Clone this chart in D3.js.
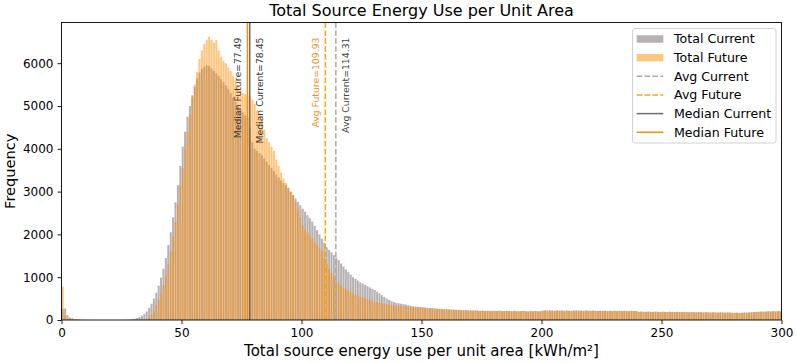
<!DOCTYPE html>
<html>
<head>
<meta charset="utf-8">
<script src="https://cdn.jsdelivr.net/npm/d3@7"></script>
<style>
  body { margin: 0; background: #fff; }
  text { font-family: "DejaVu Sans", sans-serif; }
</style>
</head>
<body>
<div id="chart-area"></div>
<script>
// histogram bins: 1 kWh/m² wide, starting at 0
const binStart = 0;
const binWidth = 1;

// Total Current counts per bin
const currentCounts = [
  260, 270, 115, 60, 40, 25, 15, 10, 6, 4,
  3, 2, 2, 1, 1, 1, 0, 0, 0, 0,
  0, 0, 0, 1, 2, 3, 5, 8, 12, 20,
  30, 45, 70, 100, 140, 200, 280, 380, 500, 640,
  800, 990, 1200, 1450, 1750, 2050, 2400, 2750, 3150, 3600,
  4050, 4400, 4750, 5000, 5250, 5450, 5650, 5780, 5870, 5920,
  5950, 5940, 5880, 5820, 5760, 5700, 5630, 5560, 5480, 5400,
  5300, 5200, 5100, 5000, 4920, 4850, 4780, 4720, 4500, 4150,
  4000, 3950, 3900, 3850, 3780, 3700, 3620, 3550, 3480, 3400,
  3330, 3260, 3200, 3150, 3080, 3000, 2920, 2840, 2760, 2680,
  2600, 2530, 2450, 2380, 2300, 2200, 2100, 2000, 1900, 1800,
  1700, 1640, 1580, 1520, 1460, 1400, 1320, 1250, 1180, 1120,
  1060, 1000, 960, 920, 880, 850, 820, 790, 760, 730,
  700, 660, 620, 580, 540, 500, 470, 440, 420, 400,
  390, 380, 370, 360, 345, 330, 320, 315, 310, 305,
  300, 295, 285, 280, 275, 270, 265, 262, 258, 255,
  250, 248, 245, 240, 238, 235, 232, 230, 228, 225,
  222, 220, 224, 218, 215, 220, 213, 216, 210, 212,
  215, 210, 218, 212, 208, 214, 210, 206, 212, 209,
  205, 210, 214, 207, 203, 210, 206, 212, 204, 208,
  220, 227, 218, 224, 221, 215, 226, 219, 222, 217,
  223, 218, 214, 221, 225, 217, 220, 213, 222, 218,
  215, 221, 216, 212, 219, 214, 220, 211, 217, 213,
  218, 212, 215, 210, 216, 213, 209, 215, 211, 214,
  193, 198, 195, 191, 197, 193, 190, 196, 192, 188,
  194, 190, 187, 193, 189, 185, 191, 187, 184, 190,
  186, 182, 188, 184, 180, 186, 182, 178, 184, 180,
  176, 182, 178, 174, 180, 176, 172, 178, 174, 170,
  168, 172, 166, 170, 175, 172, 178, 182, 186, 190,
  194, 198, 196, 200, 204, 200, 206, 203, 208, 205
];

// Total Future counts per bin
const futureCounts = [
  780, 90, 40, 25, 15, 10, 6, 4, 3, 2,
  1, 1, 1, 0, 0, 0, 0, 0, 0, 0,
  0, 0, 0, 0, 0, 0, 0, 0, 0, 1,
  1, 2, 3, 4, 6, 20, 60, 130, 230, 350,
  480, 640, 820, 1050, 1300, 1600, 1950, 2300, 2700, 3150,
  3550, 4000, 4400, 4800, 5200, 5500, 5800, 6100, 6300, 6450,
  6550, 6620, 6550, 6480, 6540, 6300, 6150, 6050, 6000, 5900,
  5820, 5700, 5600, 5500, 5400, 5300, 5280, 5250, 5200, 5150,
  5050, 4900, 4800, 4700, 4450, 4250, 4150, 4050, 3950, 3750,
  3600, 3450, 3300, 3200, 3100, 3000, 2900, 2750, 2600, 2400,
  2200, 2120, 2050, 1980, 1900, 1820, 1750, 1680, 1600, 1450,
  1300, 1200, 1100, 1000, 900, 850, 800, 750, 720, 690,
  650, 620, 590, 570, 540, 520, 500, 480, 460, 440,
  420, 410, 400, 390, 380, 370, 360, 350, 345, 340,
  330, 325, 320, 315, 310, 305, 300, 295, 290, 288,
  285, 280, 276, 272, 268, 264, 260, 257, 254, 251,
  248, 245, 242, 239, 236, 233, 230, 228, 226, 224,
  222, 218, 221, 215, 212, 217, 210, 213, 207, 209,
  212, 206, 214, 208, 204, 210, 206, 202, 208, 205,
  200, 206, 209, 202, 198, 205, 201, 207, 199, 203,
  214, 221, 212, 218, 215, 209, 220, 213, 216, 211,
  217, 212, 208, 215, 219, 211, 214, 207, 216, 212,
  209, 215, 210, 206, 213, 208, 214, 205, 211, 207,
  212, 206, 209, 204, 210, 207, 203, 209, 205, 208,
  188, 193, 190, 186, 192, 188, 185, 191, 187, 183,
  189, 185, 182, 188, 184, 180, 186, 182, 179, 185,
  181, 177, 183, 179, 175, 181, 177, 173, 179, 175,
  171, 177, 173, 169, 175, 171, 167, 173, 169, 165,
  163, 167, 161, 165, 170, 167, 173, 177, 181, 185,
  189, 193, 191, 195, 199, 195, 201, 198, 203, 200
];

// reference lines
const refLines = [
  { name: "Median Future",  value: 77.49,  side: -1, dashed: false },
  { name: "Median Current", value: 78.45,  side:  1, dashed: false },
  { name: "Avg Future",     value: 109.93, side: -1, dashed: true },
  { name: "Avg Current",    value: 114.31, side:  1, dashed: true }
];

const xTicks = [0, 50, 100, 150, 200, 250, 300];
const yTicks = [0, 1000, 2000, 3000, 4000, 5000, 6000];

const chartTitle = "Total Source Energy Use per Unit Area";
const xLabel = "Total source energy use per unit area [kWh/m²]";
const yLabel = "Frequency";

const legendItems = [
  { label: "Total Current",  kind: "patch" },
  { label: "Total Future",   kind: "patch" },
  { label: "Avg Current",    kind: "dash" },
  { label: "Avg Future",     kind: "dash" },
  { label: "Median Current", kind: "line" },
  { label: "Median Future",  kind: "line" }
];

const totalWidth = 796, totalHeight = 363;
const marginLeft = 61.5, marginRight = 14.5, marginTop = 22.5, marginBottom = 43;
const width = totalWidth - marginLeft - marginRight;
const height = totalHeight - marginTop - marginBottom;

const styles = {
  "Total Current":  { fill: "#857d80", opacity: 0.6 },
  "Total Future":   { fill: "#ff8c00", opacity: 0.5 },
  "Median Current": { stroke: "#6e6e6e", text: "#333333" },
  "Median Future":  { stroke: "#ff8c00", text: "#3a3a3a" },
  "Avg Current":    { stroke: "#a9a9a9", text: "#444444" },
  "Avg Future":     { stroke: "#ffa500", text: "#f0921e" }
};

const svg = d3.select("#chart-area")
  .append("svg")
    .attr("width", totalWidth)
    .attr("height", totalHeight);

const g = svg.append("g")
  .attr("transform", "translate(" + marginLeft + "," + marginTop + ")");

const xScale = d3.scaleLinear()
  .domain([0, 300])
  .range([0, width]);

const yMax = d3.max(currentCounts.concat(futureCounts)) * 1.05;
const yScale = d3.scaleLinear()
  .domain([0, yMax])
  .range([height, 0]);

function drawBars(counts, style, cls) {
  const bins = counts.map((c, i) => ({ x0: binStart + i * binWidth, x1: binStart + (i + 1) * binWidth, count: c }));
  g.append("g")
    .attr("class", cls)
    .selectAll("rect")
    .data(bins)
    .enter()
    .append("rect")
      .attr("x", d => xScale(d.x0) + 0.2)
      .attr("width", d => Math.max(0, xScale(d.x1) - xScale(d.x0) - 0.4))
      .attr("y", d => yScale(d.count))
      .attr("height", d => height - yScale(d.count))
      .attr("fill", style.fill)
      .attr("fill-opacity", style.opacity);
}

drawBars(currentCounts, styles["Total Current"], "bars current");
drawBars(futureCounts, styles["Total Future"], "bars future");

// reference lines + rotated labels (text ends near the top of the axes)
const labelTop = 15;
refLines.forEach(r => {
  const st = styles[r.name];
  const x = xScale(r.value);
  g.append("line")
    .attr("x1", x).attr("x2", x)
    .attr("y1", 0).attr("y2", height)
    .attr("stroke", st.stroke)
    .attr("stroke-width", 1.5)
    .attr("stroke-dasharray", r.dashed ? "5.5,2.4" : null);

  g.append("text")
    .attr("transform", "translate(" + (x + r.side * 10) + "," + labelTop + ") rotate(-90)")
    .attr("text-anchor", "end")
    .attr("dy", "0.35em")
    .attr("font-size", "9.3px")
    .attr("fill", st.text)
    .text(r.name + "=" + r.value.toFixed(2));
});

// axes
const xAxisCall = d3.axisBottom(xScale)
  .tickValues(xTicks)
  .tickSize(4)
  .tickPadding(4)
  .tickFormat(d3.format("d"));
const xAxis = g.append("g")
  .attr("class", "x axis")
  .attr("transform", "translate(0," + height + ")")
  .call(xAxisCall);

const yAxisCall = d3.axisLeft(yScale)
  .tickValues(yTicks)
  .tickSize(4)
  .tickPadding(4)
  .tickFormat(d3.format("d"));
const yAxis = g.append("g")
  .attr("class", "y axis")
  .call(yAxisCall);

[xAxis, yAxis].forEach(a => {
  a.attr("font-size", null).attr("font-family", null);
  a.select(".domain").remove();
  a.selectAll("text").style("font-size", "12px").attr("fill", "#000");
  a.selectAll("line").attr("stroke", "#000").attr("stroke-width", 0.9);
});

// frame
g.append("rect")
  .attr("width", width)
  .attr("height", height)
  .attr("fill", "none")
  .attr("stroke", "#000")
  .attr("stroke-width", 0.9);

// title + labels
svg.append("text")
  .attr("x", marginLeft + width / 2)
  .attr("y", 16)
  .attr("text-anchor", "middle")
  .attr("font-size", "16px")
  .text(chartTitle);

svg.append("text")
  .attr("x", marginLeft + width / 2)
  .attr("y", 356)
  .attr("text-anchor", "middle")
  .attr("font-size", "15px")
  .text(xLabel);

svg.append("text")
  .attr("transform", "translate(15," + (marginTop + height / 2) + ") rotate(-90)")
  .attr("text-anchor", "middle")
  .attr("font-size", "14.6px")
  .text(yLabel);

// legend
const legend = svg.append("g")
  .attr("transform", "translate(632.5,28.5)");

legend.append("rect")
  .attr("width", 143.5)
  .attr("height", 114.5)
  .attr("rx", 2.5)
  .attr("fill", "#fff")
  .attr("fill-opacity", 0.8)
  .attr("stroke", "#cccccc")
  .attr("stroke-width", 0.9);

legendItems.forEach((item, i) => {
  const st = styles[item.label];
  const row = legend.append("g")
    .attr("transform", "translate(0," + (10.5 + i * 18.65) + ")");

  if (item.kind === "patch") {
    row.append("rect")
      .attr("x", 4.2)
      .attr("y", -3.7)
      .attr("width", 26.6)
      .attr("height", 7.4)
      .attr("fill", st.fill)
      .attr("fill-opacity", st.opacity);
  } else {
    row.append("line")
      .attr("x1", 4.2).attr("x2", 30.8)
      .attr("stroke", st.stroke)
      .attr("stroke-width", 1.5)
      .attr("stroke-dasharray", item.kind === "dash" ? "5.5,2.4" : null);
  }

  row.append("text")
    .attr("x", 41.5)
    .attr("dy", "0.35em")
    .attr("font-size", "12.6px")
    .text(item.label);
});
</script>
</body>
</html>
